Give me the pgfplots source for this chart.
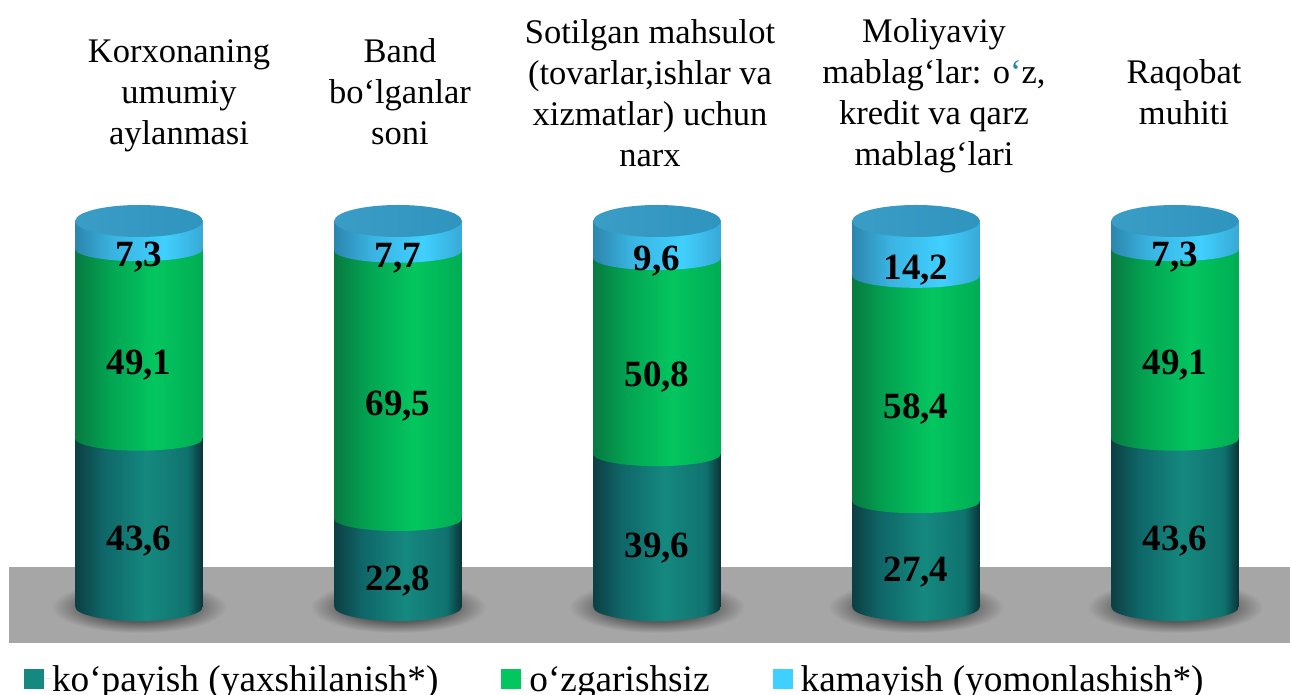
\documentclass[border=0pt]{standalone}
\usepackage{fontspec}
\setmainfont{Liberation Serif}
\usepackage{pgfplots}
\usepackage{pgfplotstable}
\pgfplotsset{compat=1.18}
\definecolor{tA}{HTML}{0C3F43}\definecolor{tB}{HTML}{0F6668}\definecolor{tC}{HTML}{15897F}\definecolor{tD}{HTML}{10726F}\definecolor{tE}{HTML}{0A3438}
\definecolor{gA}{HTML}{077A40}\definecolor{gB}{HTML}{03A352}\definecolor{gC}{HTML}{03C65F}\definecolor{gD}{HTML}{00AD54}
\definecolor{bA}{HTML}{2C86AD}\definecolor{bB}{HTML}{3AB4E2}\definecolor{bC}{HTML}{40D0FF}\definecolor{bD}{HTML}{38A9D6}
\definecolor{capA}{HTML}{3A9DC6}\definecolor{capB}{HTML}{2F94BE}
\definecolor{floorc}{HTML}{A6A6A6}
\pgfdeclarehorizontalshading{tealcyl}{100bp}{color(0bp)=(tA);color(25bp)=(tA);color(36bp)=(tB);color(53bp)=(tC);color(69bp)=(tD);color(75bp)=(tE);color(100bp)=(tE)}
\pgfdeclarehorizontalshading{greencyl}{100bp}{color(0bp)=(gA);color(25bp)=(gA);color(38bp)=(gB);color(56bp)=(gC);color(75bp)=(gD);color(100bp)=(gD)}
\pgfdeclarehorizontalshading{bluecyl}{100bp}{color(0bp)=(bA);color(25bp)=(bA);color(40bp)=(bB);color(60bp)=(bC);color(75bp)=(bD);color(100bp)=(bD)}
\pgfdeclarehorizontalshading{capcyl}{100bp}{color(0bp)=(capA);color(25bp)=(capA);color(75bp)=(capB);color(100bp)=(capB)}
\pgfdeclareradialshading{shadowc}{\pgfpoint{0bp}{0bp}}{color(0bp)=(black!65!white);color(14bp)=(black!65!white);color(25bp)=(floorc);color(50bp)=(floorc)}
\pgfdeclareplotmark{ellT}{\pgfpathellipse{\pgfpointorigin}{\pgfpoint{63.75pt}{0pt}}{\pgfpoint{0pt}{14pt}}\pgfshadepath{tealcyl}{0}\pgfusepath{discard}}
\pgfdeclareplotmark{ellG}{\pgfpathellipse{\pgfpointorigin}{\pgfpoint{63.75pt}{0pt}}{\pgfpoint{0pt}{12pt}}\pgfshadepath{greencyl}{0}\pgfusepath{discard}}
\pgfdeclareplotmark{ellB}{\pgfpathellipse{\pgfpointorigin}{\pgfpoint{63.75pt}{0pt}}{\pgfpoint{0pt}{12pt}}\pgfshadepath{bluecyl}{0}\pgfusepath{discard}}
\pgfdeclareplotmark{ellC}{\pgfpathellipse{\pgfpointorigin}{\pgfpoint{63.75pt}{0pt}}{\pgfpoint{0pt}{16pt}}\pgfshadepath{capcyl}{0}\pgfusepath{discard}}
\pgfdeclareplotmark{ellS}{\pgfpathellipse{\pgfpointorigin}{\pgfpoint{88pt}{0pt}}{\pgfpoint{0pt}{26pt}}\pgfshadepath{shadowc}{0}\pgfusepath{discard}}
\pgfplotstableread{
x zero kop ozg kam
0 0 43.6 49.1 7.3
1 0 22.8 69.5 7.7
2 0 39.6 50.8 9.6
3 0 27.4 58.4 14.2
4 0 43.6 49.1 7.3
}\data
\pgfplotsset{base/.style={scale only axis,width=1290pt,height=695pt,axis lines=none,clip=false,
  xmin=-0.53668,xmax=4.44402,ymin=-22.798,ymax=157.254,xtick=\empty,ytick=\empty,at={(0pt,0pt)},anchor=south west},
  lab/.style 2 args={draw=none,mark=none,nodes near coords={\pgfmathprintnumber[use comma,fixed,fixed zerofill,precision=1,assume math mode=true]{\pgfplotspointmeta}},
   visualization depends on={\thisrow{#1} \as \segval},point meta=\thisrow{#1},
   nodes near coords style={anchor=center,inner sep=0pt,text=black,font=\fontsize{37}{37}\bfseries\selectfont,yshift={-(1.93*\segval+#2)*1pt}}}}
\begin{document}
\begin{tikzpicture}
\path[use as bounding box,clip] (0pt,0pt) rectangle (1290pt,695pt);
\begin{axis}[base]
\addplot[fill=floorc,draw=none,mark=none] coordinates {(-0.50193,10.363) (4.44402,10.363) (4.44402,-9.326) (-0.50193,-9.326)} -- cycle;
\addplot[only marks,mark=ellS] table[x=x,y=zero] {\data};
\end{axis}
\foreach \i in {0,1,2,3,4}{
\begin{axis}[base,ybar stacked,bar width=127.5pt]
\addplot[draw=none,shade,shading=tealcyl,restrict x to domain=\i:\i] table[x=x,y=kop] {\data};
\addplot[draw=none,shade,shading=greencyl,restrict x to domain=\i:\i] table[x=x,y=ozg] {\data};
\addplot[draw=none,shade,shading=bluecyl,restrict x to domain=\i:\i] table[x=x,y=kam] {\data};
\end{axis}
}
\begin{axis}[base,stack plots=y,
  legend columns=3,legend cell align=left,
  legend style={at={(24pt,3.5pt)},anchor=south west,draw=none,fill=none,inner sep=0pt,outer sep=0pt,
    font=\fontsize{37.3}{37.3}\selectfont,
    /tikz/every even column/.append style={column sep=63pt},
    nodes={inner sep=0pt,text depth=0pt}},
  legend image code/.code={\fill[#1] (0pt,-10pt) rectangle (20pt,10pt);\path (20pt,0pt) -- (28pt,0pt);}]
\addlegendimage{fill=tC,draw=none}
\addlegendentry{ko‘payish (yaxshilanish*)}
\addlegendimage{fill=gC,draw=none}
\addlegendentry{o‘zgarishsiz}
\addlegendimage{fill=bC,draw=none}
\addlegendentry{kamayish (yomonlashish*)}
\addplot[forget plot,only marks,mark=ellT] table[x=x,y=zero] {\data};
\addplot[forget plot,only marks,mark=ellG] table[x=x,y=kop] {\data};
\addplot[forget plot,only marks,mark=ellB] table[x=x,y=ozg] {\data};
\addplot[forget plot,only marks,mark=ellC] table[x=x,y=kam] {\data};
\end{axis}
\begin{axis}[base,stack plots=y]
\addplot[forget plot,lab={kop}{18}] table[x=x,y=kop] {\data};
\addplot[forget plot,lab={ozg}{21}] table[x=x,y=ozg] {\data};
\addplot[forget plot,lab={kam}{22}] table[x=x,y=kam] {\data};
\end{axis}
\begin{scope}[every node/.style={align=center,inner sep=0pt,font=\fontsize{34.5}{41}\selectfont}]
\node at (179pt,599pt) {Korxonaning\\umumiy\\aylanmasi};
\node at (400pt,603pt) {Band\\bo‘lganlar\\soni};
\node at (650pt,602pt) {Sotilgan mahsulot\\(tovarlar,ishlar va\\xizmatlar) uchun\\narx};
\node at (934pt,599pt) {Moliyaviy\\mablag‘lar: o\textcolor{bA}{‘}z,\\kredit va qarz\\mablag‘lari};
\node at (1184pt,603pt) {Raqobat\\muhiti};
\end{scope}
\end{tikzpicture}
\end{document}
